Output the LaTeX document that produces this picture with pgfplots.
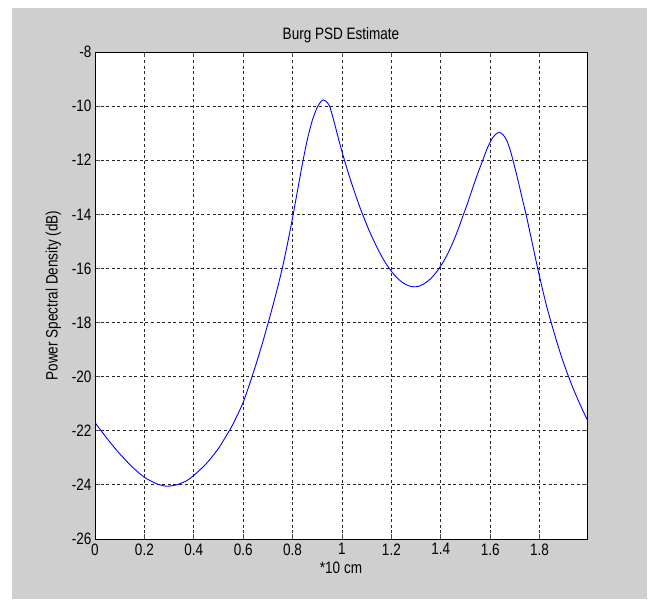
\documentclass[border=0pt]{standalone}
\usepackage{fontspec}
\setmainfont{Liberation Sans}[FakeStretch=0.82]
\usepackage{pgfplots}
\pgfplotsset{compat=1.18}
\definecolor{figgray}{RGB}{207,207,207}
\begin{document}
\begin{tikzpicture}[x=1pt,y=1pt]
\fill[white] (0,0) rectangle (652,599);
\fill[figgray] (12,0) rectangle (647,591);
\begin{axis}[
  at={(95pt,60pt)}, anchor=south west,
  scale only axis, width=492pt, height=487pt,
  xmin=0, xmax=1.992, ymin=-26, ymax=-8,
  axis background/.style={fill=white},
  axis line style={black, line width=0.9pt},
  xtick={0,0.2,0.4,0.6,0.8,1,1.2,1.4,1.6,1.8},
  xticklabels={0,0.2,0.4,0.6,0.8,1,1.2,1.4,1.6,1.8},
  ytick={-26,-24,-22,-20,-18,-16,-14,-12,-10,-8},
  yticklabels={-26,-24,-22,-20,-18,-16,-14,-12,-10,-8},
  tick align=inside, major tick length=5pt,
  tick style={black!70, line width=0.9pt},
  grid=major,
  major grid style={black!85, line width=0.9pt, dash pattern=on 3pt off 2.6pt},
  ticklabel style={font=\fontsize{16.5}{19}\selectfont, text=black},
  xticklabel style={yshift=-1pt},
  title={Burg PSD Estimate},
  title style={font=\fontsize{16.5}{19}\selectfont},
  xlabel={*10 cm},
  ylabel={Power Spectral Density (dB)},
  label style={font=\fontsize{16.5}{19}\selectfont},
  ylabel style={yshift=4pt},
]
\addplot[blue, line width=0.9pt, smooth, tension=0.4] coordinates {
(0,-21.7) (0.025,-22.0) (0.05,-22.3) (0.075,-22.58) (0.1,-22.85) (0.15,-23.33)
(0.2,-23.72) (0.25,-23.96) (0.29,-24.05) (0.33,-24.0) (0.37,-23.85) (0.4,-23.65)
(0.45,-23.22) (0.5,-22.65) (0.55,-21.9) (0.575,-21.45) (0.6,-20.95) (0.625,-20.3)
(0.65,-19.6) (0.675,-18.85) (0.70,-18.05) (0.72,-17.38) (0.74,-16.68) (0.76,-15.92)
(0.78,-15.06) (0.80,-14.12) (0.82,-13.12) (0.84,-12.12) (0.86,-11.22) (0.88,-10.52)
(0.90,-10.04) (0.915,-9.83) (0.925,-9.77) (0.935,-9.82) (0.95,-10.0) (0.97,-10.65)
(0.99,-11.35) (1.01,-12.0) (1.03,-12.6) (1.05,-13.15) (1.07,-13.68) (1.09,-14.15)
(1.11,-14.6) (1.13,-15.0) (1.15,-15.37) (1.17,-15.7) (1.19,-15.98) (1.21,-16.22)
(1.23,-16.41) (1.25,-16.55) (1.27,-16.64) (1.29,-16.68) (1.31,-16.66) (1.33,-16.58)
(1.35,-16.45) (1.37,-16.27) (1.39,-16.04) (1.41,-15.76) (1.43,-15.42) (1.45,-15.02)
(1.47,-14.56) (1.49,-14.05) (1.51,-13.55) (1.53,-13.0) (1.55,-12.48) (1.57,-12.0)
(1.59,-11.52) (1.61,-11.17) (1.625,-11.02) (1.635,-10.97) (1.645,-11.0) (1.66,-11.15)
(1.675,-11.45) (1.69,-11.92) (1.71,-12.65) (1.73,-13.42) (1.75,-14.2) (1.77,-15.05)
(1.79,-15.9) (1.81,-16.7) (1.83,-17.45) (1.85,-18.1) (1.87,-18.72) (1.89,-19.3)
(1.91,-19.82) (1.93,-20.3) (1.95,-20.74) (1.97,-21.15) (1.992,-21.58)
};
\end{axis}
\end{tikzpicture}
\end{document}
